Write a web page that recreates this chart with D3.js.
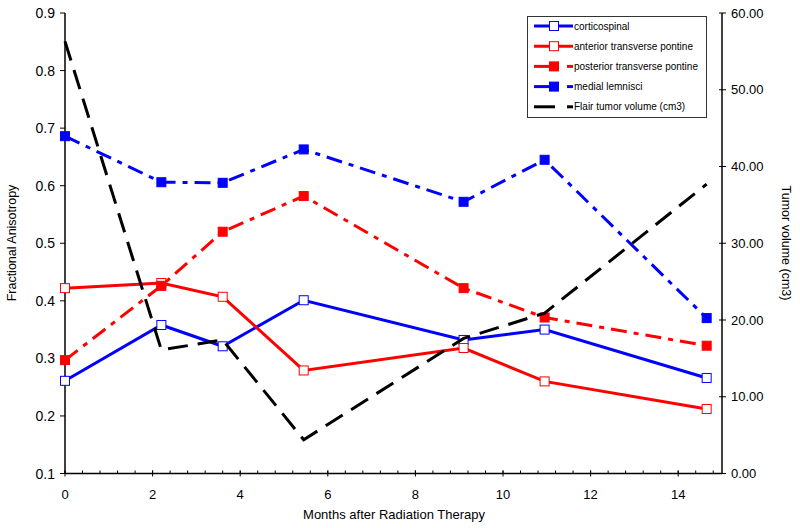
<!DOCTYPE html>
<html>
<head>
<meta charset="UTF-8">
<title>FA and tumor volume after radiation therapy</title>
<script src="https://cdn.jsdelivr.net/npm/d3@7"></script>
<style>
  body { margin: 0; background: #fff; }
  text { font-family: "Liberation Sans", Arial, sans-serif; fill: #000; }
  .line { fill: none; stroke-width: 3; }
</style>
</head>
<body>
<div id="graphe"></div>
<script>
// data
var months = [0, 2.2, 3.6, 5.45, 9.1, 10.95, 14.65];
var corticospinal = [0.261, 0.358, 0.321, 0.401, 0.332, 0.350, 0.266];
var anteriorTP = [0.422, 0.431, 0.407, 0.279, 0.318, 0.260, 0.212];
var posteriorTP = [0.297, 0.426, 0.520, 0.582, 0.422, 0.371, 0.322];
var medialLemnisci = [0.686, 0.606, 0.605, 0.663, 0.572, 0.645, 0.370];
var tumorVolume = [56.3, 16.1, 17.4, 4.4, 17.6, 20.9, 37.7];

var faTicks = [0.1, 0.2, 0.3, 0.4, 0.5, 0.6, 0.7, 0.8, 0.9];
var volTicks = [0, 10, 20, 30, 40, 50, 60];
var monthTicks = [0, 2, 4, 6, 8, 10, 12, 14];

var width = 800, height = 528;
var svg = d3.select("#graphe").append("svg")
    .attr("width", width)
    .attr("height", height);

var x = d3.scaleLinear().domain([0, 15]).range([65, 722]);
var y = d3.scaleLinear().domain([0.1, 0.9]).range([473.5, 13]);
var y2 = d3.scaleLinear().domain([0, 60]).range([473.5, 13]);

// series: name, values, colour, dash, marker (open/filled/none), axis
var series = [
  {name: "corticospinal", values: corticospinal, color: "#0000ff", dash: null, marker: "open", scale: y},
  {name: "anterior transverse pontine", values: anteriorTP, color: "#ff0000", dash: null, marker: "open", scale: y},
  {name: "posterior transverse pontine", values: posteriorTP, color: "#ff0000", dash: "16,7,5,7", marker: "filled", scale: y},
  {name: "medial lemnisci", values: medialLemnisci, color: "#0000ff", dash: "16,7,5,7", marker: "filled", scale: y},
  {name: "Flair tumor volume (cm3)", values: tumorVolume, color: "#000000", dash: "20,10", marker: "none", scale: y2}
];

// axes
var gx = svg.append("g").attr("transform", "translate(0," + y.range()[0] + ")");
gx.append("line").attr("x1", x(0)).attr("x2", x(15)).attr("stroke", "#000").attr("stroke-width", 1.5);
var minor = d3.range(0, 15.01, 0.4);
gx.selectAll(".minor").data(minor).enter().append("line")
  .attr("x1", function(d) { return x(d); }).attr("x2", function(d) { return x(d); })
  .attr("y1", 0).attr("y2", -3).attr("stroke", "#000");
gx.selectAll(".major").data(monthTicks).enter().append("line")
  .attr("x1", function(d) { return x(d); }).attr("x2", function(d) { return x(d); })
  .attr("y1", -3).attr("y2", 3).attr("stroke", "#000");
gx.selectAll(".lab").data(monthTicks).enter().append("text")
  .attr("x", function(d) { return x(d); }).attr("y", 25)
  .attr("text-anchor", "middle").style("font-size", "13px")
  .text(function(d) { return d; });

var gy = svg.append("g").attr("transform", "translate(" + x(0) + ",0)");
gy.append("line").attr("y1", y(0.1)).attr("y2", y(0.9)).attr("stroke", "#000").attr("stroke-width", 1.5);
gy.selectAll(".tk").data(faTicks).enter().append("line")
  .attr("x1", -5).attr("x2", 0)
  .attr("y1", function(d) { return y(d); }).attr("y2", function(d) { return y(d); })
  .attr("stroke", "#000");
gy.selectAll(".lab").data(faTicks).enter().append("text")
  .attr("x", -10).attr("y", function(d) { return y(d); }).attr("dy", "0.36em")
  .attr("text-anchor", "end").style("font-size", "14px")
  .text(function(d) { return d3.format(".1f")(d); });

var gy2 = svg.append("g").attr("transform", "translate(" + x(15) + ",0)");
gy2.append("line").attr("y1", y2(0)).attr("y2", y2(60)).attr("stroke", "#000").attr("stroke-width", 1.5);
gy2.selectAll(".tk").data(volTicks).enter().append("line")
  .attr("x1", -3).attr("x2", 4)
  .attr("y1", function(d) { return y2(d); }).attr("y2", function(d) { return y2(d); })
  .attr("stroke", "#000");
gy2.selectAll(".lab").data(volTicks).enter().append("text")
  .attr("x", 9).attr("y", function(d) { return y2(d); }).attr("dy", "0.36em")
  .style("font-size", "13px")
  .text(function(d) { return d3.format(".2f")(d); });

// axis titles
svg.append("text").attr("transform", "translate(16,243) rotate(-90)")
  .attr("text-anchor", "middle").style("font-size", "12.5px").text("Fractional Anisotropy");
svg.append("text").attr("transform", "translate(782,243) rotate(90)")
  .attr("text-anchor", "middle").style("font-size", "12.5px").text("Tumor volume (cm3)");
svg.append("text").attr("x", 394).attr("y", 519)
  .attr("text-anchor", "middle").style("font-size", "13px").text("Months after Radiation Therapy");

// lines and markers
series.forEach(function(s) {
  var line = d3.line()
    .x(function(d, i) { return x(months[i]); })
    .y(function(d) { return s.scale(d); });
  svg.append("path").attr("class", "line")
    .attr("d", line(s.values))
    .attr("stroke", s.color)
    .attr("stroke-dasharray", s.dash);
  if (s.marker != "none") {
    svg.append("g").selectAll("rect").data(s.values).enter().append("rect")
      .attr("x", function(d, i) { return x(months[i]) - 4.5; })
      .attr("y", function(d) { return s.scale(d) - 4.5; })
      .attr("width", 9).attr("height", 9)
      .attr("fill", s.marker == "open" ? "#fff" : s.color)
      .attr("stroke", s.color).attr("stroke-width", 1);
  }
});

// legend
var leg = svg.append("g");
leg.append("rect").attr("x", 527.5).attr("y", 16.5).attr("width", 179).attr("height", 101)
  .attr("fill", "#fff").attr("stroke", "#333");
series.forEach(function(s, i) {
  var ly = 26 + i * 20.2;
  if (s.dash) {
    leg.append("line").attr("x1", 534).attr("x2", 555).attr("y1", ly).attr("y2", ly)
      .attr("stroke", s.color).attr("stroke-width", 3);
    leg.append("line").attr("x1", 567).attr("x2", 573).attr("y1", ly).attr("y2", ly)
      .attr("stroke", s.color).attr("stroke-width", 3);
  } else {
    leg.append("line").attr("x1", 534).attr("x2", 573).attr("y1", ly).attr("y2", ly)
      .attr("stroke", s.color).attr("stroke-width", 3);
  }
  if (s.marker != "none") {
    leg.append("rect").attr("x", 549.5).attr("y", ly - 4.5).attr("width", 9).attr("height", 9)
      .attr("fill", s.marker == "open" ? "#fff" : s.color).attr("stroke", s.color);
  }
  leg.append("text").attr("x", 574).attr("y", ly).attr("dy", "0.35em")
    .style("font-size", "10px").text(s.name);
});
</script>
</body>
</html>
